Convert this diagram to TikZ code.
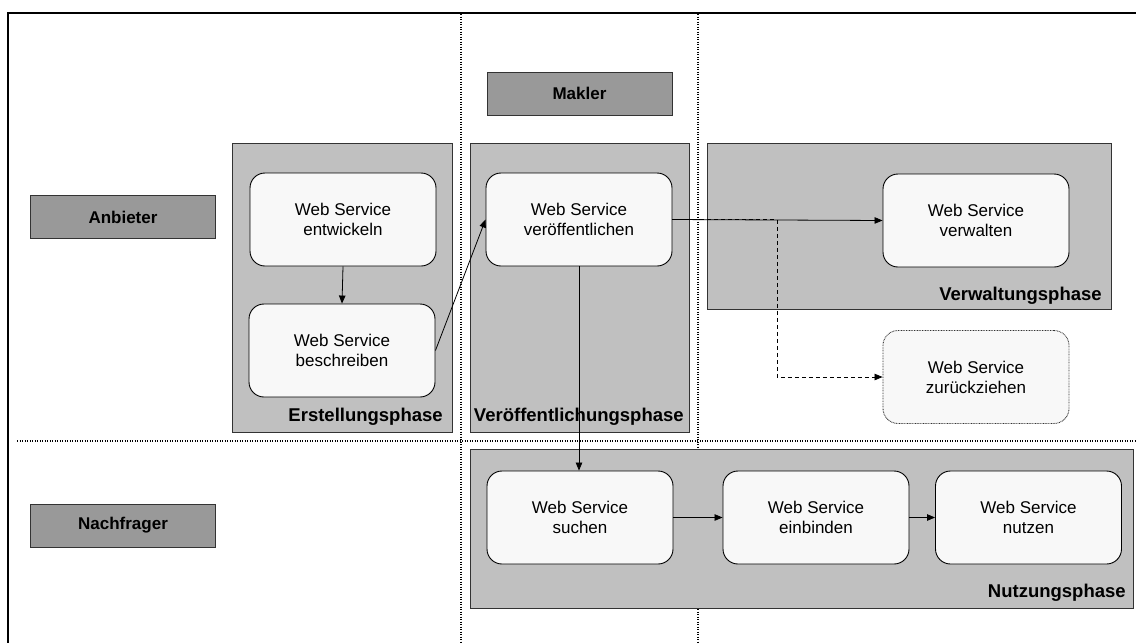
\documentclass[tikz,border=0pt]{standalone}
\usepackage{fontspec}
\setmainfont{Liberation Sans}
\usetikzlibrary{arrows.meta}

\definecolor{panelgray}{HTML}{C0C0C0}
\definecolor{rolegray}{HTML}{999999}
\definecolor{taskfill}{HTML}{F8F8F8}
\definecolor{edgegray}{HTML}{333333}

\tikzset{
  panel/.style={draw=edgegray, line width=0.9pt, fill=panelgray, rectangle, inner sep=0pt, anchor=north west},
  rolebox/.style={draw=edgegray, line width=0.9pt, fill=rolegray, rectangle, minimum width=185pt, minimum height=43pt,
    font=\fontsize{17}{20}\selectfont\bfseries},
  task/.style={draw=black, line width=0.9pt, fill=taskfill, rectangle, rounded corners=15pt,
    minimum width=186pt, minimum height=93pt, align=center, font=\fontsize{17}{20}\selectfont},
  phaselabel/.style={anchor=base east, inner sep=0pt, font=\fontsize{18.5}{22}\selectfont\bfseries},
  lanesep/.style={line width=1.2pt, dash pattern=on 1.2pt off 1.3pt},
  flow/.style={line width=0.8pt, -{Triangle[length=8pt,width=6.5pt]}},
  optflow/.style={flow, dash pattern=on 4pt off 3pt},
}

\begin{document}
\begin{tikzpicture}[x=1pt,y=-1pt]
  \useasboundingbox (0,0) rectangle (1136,643);
  \fill[white] (0,0) rectangle (1136,643);

  % outer frame (open to the right and bottom)
  \draw[line width=2pt] (8,643) -- (8,13) -- (1136,13);

  % swim-lane separators
  \draw[lanesep] (461,14) -- (461,643);
  \draw[lanesep] (698,14) -- (698,643);
  \draw[lanesep] (17,441) -- (1136,441);

  % roles
  \node[rolebox] (makler) at (579.5,93.5) {Makler};
  \node[rolebox] (anbieter) at (123,217) {Anbieter};
  \node[rolebox] (nachfrager) at (123,525.5) {Nachfrager};

  % phase panels
  \node[panel, minimum width=220pt, minimum height=289pt] (pErst) at (232,143) {};
  \node[panel, minimum width=219pt, minimum height=289pt] (pVer) at (470,143) {};
  \node[panel, minimum width=404pt, minimum height=166pt] (pVerw) at (707,143) {};
  \node[panel, minimum width=663pt, minimum height=159pt] (pNutz) at (470,449) {};

  \node[phaselabel] (lErst) at ([shift={(-10,-11)}]pErst.south east) {Erstellungsphase};
  \node[phaselabel] (lVer) at ([shift={(-6,-11)}]pVer.south east) {Veröffentlichungsphase};
  \node[phaselabel] (lVerw) at ([shift={(-10,-9)}]pVerw.south east) {Verwaltungsphase};
  \node[phaselabel] (lNutz) at ([shift={(-8,-11)}]pNutz.south east) {Nutzungsphase};

  % activities
  \node[task] (entw) at (343,219.5) {Web Service\\entwickeln};
  \node[task] (besch) at (342,350.5) {Web Service\\beschreiben};
  \node[task] (pub) at (579,219.5) {Web Service\\veröffentlichen};
  \node[task] (verw) at (976,220.5) {Web Service\\verwalten};
  \node[task, draw=edgegray, dash pattern=on 0.8pt off 0.8pt] (zur) at (976,377) {Web Service\\zurückziehen};
  \node[task] (such) at (580,517.5) {Web Service\\suchen};
  \node[task] (einb) at (816,517.5) {Web Service\\einbinden};
  \node[task] (nutz) at (1028.5,517.5) {Web Service\\nutzen};

  % flows
  \draw[flow] (entw.south) -- (besch.north);
  \draw[flow] (besch.east) -- (pub.west);
  \draw[flow] (pub.east) -- (verw.west);
  \coordinate (split) at (777,219.5);
  \draw[optflow] (pub.east) -- (split) |- (zur.west);
  \draw[flow] (pub.south) -- (pub.south |- such.north);
  \draw[flow] (such.east) -- (einb.west);
  \draw[flow] (einb.east) -- (nutz.west);
\end{tikzpicture}
\end{document}
